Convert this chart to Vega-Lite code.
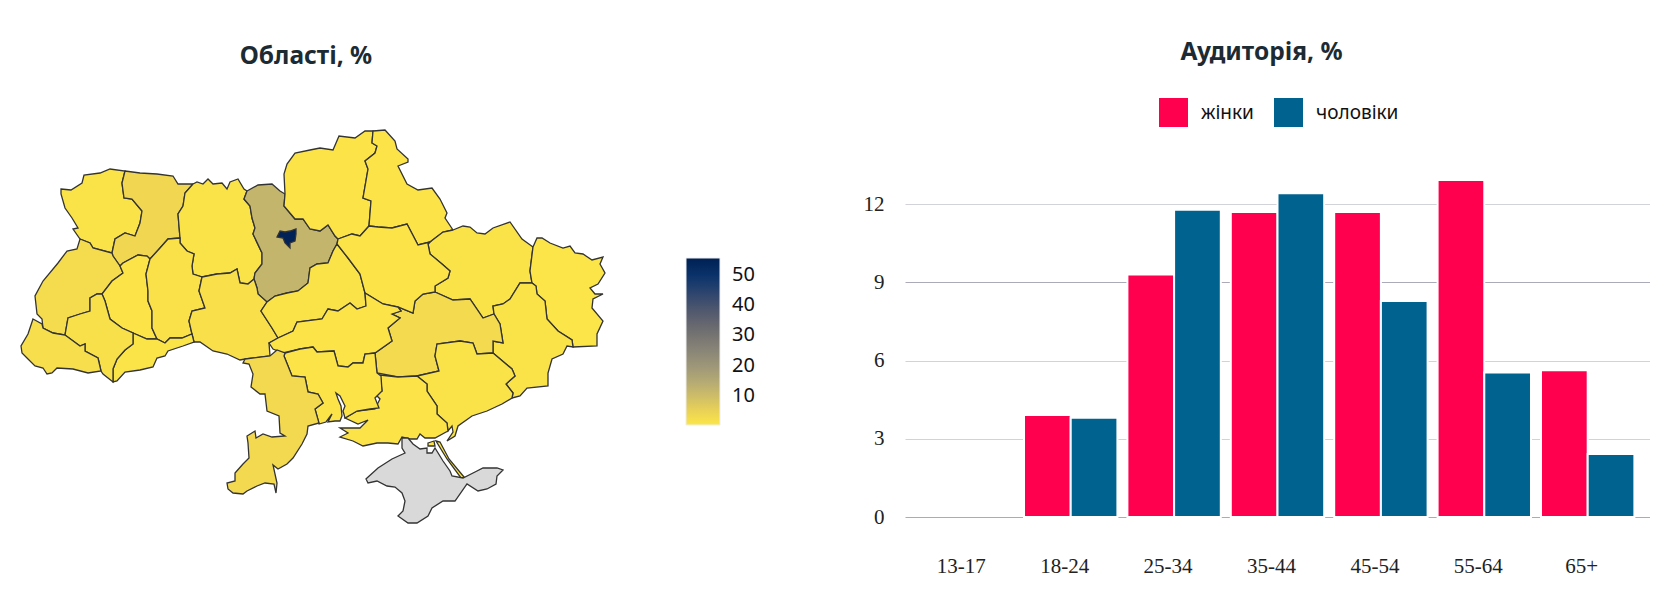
{
  "$schema": "https://vega.github.io/schema/vega-lite/v6.json",
  "background": "white",
  "padding": {"left": 18, "top": 39, "right": 0, "bottom": 0},
  "bounds": "flush",
  "spacing": 300,
  "hconcat": [
    {
      "width": 584,
      "height": 393,
      "title": {"text": "Області, %", "font": "Noto Sans", "fontSize": 24.5, "fontWeight": "bold", "color": "#1c2b33", "anchor": "middle", "baseline": "middle", "offset": 46, "dx": -7},
      "data": {
        "values": [
          {"type": "Feature", "region": "Волинська", "value": 1.2, "geometry": {"type": "Polygon", "coordinates": [[[61,188],[71,189],[82,182],[84,174],[100,172],[110,168],[125,170],[122,182],[124,197],[132,198],[142,210],[140,222],[135,235],[125,232],[115,238],[112,252],[93,247],[90,242],[80,238],[73,228],[78,227],[72,217],[65,207],[61,193],[61,188]]]}},
          {"type": "Feature", "region": "Рівненська", "value": 3.6, "geometry": {"type": "Polygon", "coordinates": [[[125,170],[140,172],[157,173],[173,175],[178,183],[193,183],[185,192],[183,205],[178,213],[180,237],[168,238],[160,247],[150,258],[147,255],[138,254],[123,262],[120,265],[113,255],[112,252],[115,238],[125,232],[135,235],[140,222],[142,210],[132,198],[124,197],[122,182],[125,170]]]}},
          {"type": "Feature", "region": "Житомирська", "value": 1.3, "geometry": {"type": "Polygon", "coordinates": [[[193,183],[197,181],[203,183],[208,178],[213,183],[222,182],[227,188],[230,181],[238,178],[244,188],[247,190],[244,198],[250,205],[252,217],[255,227],[253,233],[262,252],[262,263],[255,272],[254,278],[248,283],[240,282],[237,268],[230,272],[217,273],[202,276],[193,273],[192,265],[194,253],[187,250],[180,242],[180,237],[178,213],[183,205],[185,192],[193,183]]]}},
          {"type": "Feature", "region": "Київська", "value": 12, "geometry": {"type": "Polygon", "coordinates": [[[247,190],[258,184],[272,183],[280,190],[285,193],[284,205],[295,218],[303,218],[310,228],[320,230],[328,224],[335,235],[338,238],[337,243],[333,250],[328,262],[317,263],[310,267],[308,282],[298,290],[287,292],[275,295],[267,301],[258,293],[257,287],[254,278],[255,272],[262,263],[262,252],[253,233],[255,227],[252,217],[250,205],[244,198],[247,190]]]}},
          {"type": "Feature", "region": "Київ", "value": 55, "geometry": {"type": "Polygon", "coordinates": [[[277,236],[280,230],[285,231],[290,230],[296,228],[296,233],[295,240],[290,242],[290,247],[285,242],[283,237],[277,236]]]}},
          {"type": "Feature", "region": "Чернігівська", "value": 1, "geometry": {"type": "Polygon", "coordinates": [[[285,193],[284,173],[287,163],[295,152],[310,149],[320,147],[333,149],[339,135],[355,137],[365,130],[373,130],[372,142],[377,145],[375,152],[365,160],[368,168],[363,197],[371,200],[369,225],[360,235],[352,233],[338,238],[335,235],[328,224],[320,230],[310,228],[303,218],[295,218],[284,205],[285,193]]]}},
          {"type": "Feature", "region": "Сумська", "value": 1, "geometry": {"type": "Polygon", "coordinates": [[[373,130],[385,129],[395,140],[397,148],[408,158],[408,161],[398,165],[407,183],[418,189],[432,187],[440,198],[447,212],[445,217],[453,229],[443,231],[430,241],[418,244],[407,223],[392,227],[378,226],[369,225],[371,200],[363,197],[368,168],[365,160],[375,152],[377,145],[372,142],[373,130]]]}},
          {"type": "Feature", "region": "Харківська", "value": 1.1, "geometry": {"type": "Polygon", "coordinates": [[[453,229],[463,225],[470,226],[477,232],[485,233],[493,227],[510,221],[522,238],[533,246],[530,270],[532,282],[520,282],[510,298],[503,303],[493,305],[494,313],[483,317],[470,298],[453,299],[435,291],[435,285],[448,277],[450,270],[442,263],[430,253],[428,243],[430,241],[443,231],[453,229]]]}},
          {"type": "Feature", "region": "Луганська", "value": 0.7, "geometry": {"type": "Polygon", "coordinates": [[[533,246],[537,237],[542,237],[550,242],[563,247],[570,245],[575,252],[583,253],[592,259],[603,256],[600,263],[605,272],[598,283],[590,287],[595,293],[603,293],[593,298],[592,307],[603,320],[597,333],[597,345],[573,346],[572,339],[558,330],[547,318],[545,300],[537,293],[536,285],[532,282],[530,270],[533,246]]]}},
          {"type": "Feature", "region": "Донецька", "value": 1.1, "geometry": {"type": "Polygon", "coordinates": [[[532,282],[520,282],[510,298],[503,303],[493,305],[494,313],[500,323],[503,342],[493,340],[493,352],[512,368],[515,375],[506,383],[513,392],[512,397],[520,395],[527,387],[548,385],[548,372],[552,358],[563,353],[567,345],[573,346],[572,339],[558,330],[547,318],[545,300],[537,293],[536,285],[532,282]]]}},
          {"type": "Feature", "region": "Дніпропетровська", "value": 3, "geometry": {"type": "Polygon", "coordinates": [[[435,291],[453,299],[470,298],[483,317],[494,313],[500,323],[503,342],[493,340],[493,352],[477,353],[473,342],[460,340],[437,343],[435,355],[439,370],[417,375],[398,376],[377,372],[375,352],[392,340],[388,327],[400,317],[392,313],[401,310],[398,306],[413,312],[415,300],[423,293],[435,291]]]}},
          {"type": "Feature", "region": "Запорізька", "value": 1.1, "geometry": {"type": "Polygon", "coordinates": [[[417,375],[439,370],[435,355],[437,343],[460,340],[473,342],[477,353],[493,352],[512,368],[515,375],[506,383],[513,392],[512,397],[502,403],[487,410],[472,415],[458,425],[455,435],[447,440],[453,431],[452,425],[448,430],[447,422],[437,413],[437,405],[427,390],[427,383],[417,375]]]}},
          {"type": "Feature", "region": "Херсонська", "value": 1, "geometry": {"type": "MultiPolygon", "coordinates": [[[[380,374],[398,376],[417,375],[427,383],[427,390],[437,405],[437,413],[447,422],[448,430],[435,437],[431,437],[425,437],[420,433],[417,438],[410,438],[402,436],[398,443],[388,442],[377,442],[363,445],[353,440],[340,436],[348,432],[340,427],[360,427],[368,419],[358,423],[345,417],[357,410],[375,408],[380,398],[375,393],[382,390],[380,374]]],[[[436,440],[440,441],[449,458],[464,476],[461,477],[447,458],[436,440]]],[[[428,442],[434,440],[435,445],[428,445],[428,442]]]]}},
          {"type": "Feature", "region": "Крим", "value": null, "geometry": {"type": "Polygon", "coordinates": [[[367,477],[378,467],[392,458],[405,452],[402,447],[402,437],[408,437],[413,443],[420,448],[427,447],[427,452],[432,452],[435,447],[443,460],[450,470],[452,475],[463,477],[475,471],[483,467],[497,467],[503,469],[497,475],[496,483],[487,488],[478,490],[467,483],[455,500],[443,500],[432,507],[428,515],[417,522],[408,522],[398,515],[403,510],[405,500],[402,492],[395,486],[387,485],[377,480],[368,482],[366,478],[367,477]]]}},
          {"type": "Feature", "region": "Львівська", "value": 2.6, "geometry": {"type": "Polygon", "coordinates": [[[80,238],[90,242],[93,247],[112,252],[113,255],[120,265],[123,272],[112,280],[102,293],[97,293],[90,297],[90,310],[80,313],[68,317],[65,334],[53,332],[43,327],[42,318],[37,313],[35,295],[43,280],[58,262],[67,250],[77,248],[80,238]]]}},
          {"type": "Feature", "region": "Тернопільська", "value": 1, "geometry": {"type": "Polygon", "coordinates": [[[120,265],[123,262],[138,254],[147,255],[150,258],[146,273],[148,290],[148,300],[152,310],[152,327],[157,338],[147,338],[133,332],[122,327],[110,318],[105,300],[102,293],[112,280],[123,272],[120,265]]]}},
          {"type": "Feature", "region": "Хмельницька", "value": 1.4, "geometry": {"type": "Polygon", "coordinates": [[[150,258],[160,247],[168,238],[180,237],[180,242],[187,250],[194,253],[192,265],[193,273],[202,276],[199,290],[205,307],[192,310],[189,320],[192,333],[182,337],[170,337],[165,342],[157,338],[152,327],[152,310],[148,300],[148,290],[146,273],[150,258]]]}},
          {"type": "Feature", "region": "Вінницька", "value": 1.7, "geometry": {"type": "Polygon", "coordinates": [[[202,276],[217,273],[230,272],[237,268],[240,282],[248,283],[254,278],[257,287],[258,293],[267,301],[261,310],[272,327],[278,337],[269,342],[270,355],[245,358],[240,359],[227,353],[213,350],[200,341],[194,341],[192,333],[189,320],[192,310],[205,307],[199,290],[202,276]]]}},
          {"type": "Feature", "region": "Черкаська", "value": 1.1, "geometry": {"type": "Polygon", "coordinates": [[[267,301],[275,295],[287,292],[298,290],[308,282],[310,267],[317,263],[328,262],[333,250],[337,243],[348,257],[360,273],[365,292],[366,305],[357,308],[350,302],[338,310],[328,308],[322,318],[297,321],[293,330],[278,337],[272,327],[261,310],[267,301]]]}},
          {"type": "Feature", "region": "Полтавська", "value": 1, "geometry": {"type": "Polygon", "coordinates": [[[338,238],[352,233],[360,235],[369,225],[378,226],[392,227],[407,223],[418,244],[430,241],[428,243],[430,253],[442,263],[450,270],[448,277],[435,285],[435,291],[423,293],[415,300],[413,312],[398,306],[383,303],[365,292],[360,273],[348,257],[337,243],[338,238]]]}},
          {"type": "Feature", "region": "Кіровоградська", "value": 1, "geometry": {"type": "Polygon", "coordinates": [[[366,305],[357,308],[350,302],[338,310],[328,308],[322,318],[297,321],[293,330],[278,337],[269,342],[273,348],[283,352],[300,348],[313,346],[317,351],[334,350],[338,365],[348,366],[353,362],[363,362],[365,353],[375,352],[392,340],[388,327],[400,317],[392,313],[401,310],[398,306],[383,303],[365,292],[366,305]]]}},
          {"type": "Feature", "region": "Миколаївська", "value": 1, "geometry": {"type": "Polygon", "coordinates": [[[284,355],[285,352],[300,348],[313,346],[317,351],[334,350],[338,365],[348,366],[353,362],[363,362],[365,353],[375,352],[377,372],[381,375],[382,390],[375,397],[379,407],[370,408],[357,410],[345,417],[343,410],[345,405],[340,395],[336,392],[338,398],[341,405],[342,415],[340,420],[335,420],[328,421],[332,413],[326,421],[319,423],[315,408],[323,402],[318,393],[308,391],[305,376],[292,375],[284,355]]]}},
          {"type": "Feature", "region": "Одеська", "value": 3.2, "geometry": {"type": "Polygon", "coordinates": [[[245,358],[270,355],[277,349],[285,352],[284,355],[292,375],[305,376],[308,391],[318,393],[323,402],[315,408],[319,422],[308,425],[307,433],[302,443],[293,457],[287,463],[278,468],[273,464],[277,482],[276,492],[274,483],[265,482],[257,485],[247,490],[243,493],[233,492],[228,488],[227,482],[235,480],[235,472],[243,463],[249,457],[248,442],[247,435],[255,430],[256,437],[263,433],[272,436],[285,435],[280,432],[279,415],[267,410],[265,393],[260,393],[251,386],[253,373],[249,363],[243,362],[245,358]]]}},
          {"type": "Feature", "region": "Чернівецька", "value": 0.8, "geometry": {"type": "Polygon", "coordinates": [[[133,332],[147,338],[157,338],[165,342],[170,337],[182,337],[192,333],[194,341],[183,345],[168,350],[165,355],[157,357],[153,366],[140,369],[125,371],[117,380],[113,381],[113,368],[117,358],[125,349],[133,343],[133,332]]]}},
          {"type": "Feature", "region": "Івано-Франківська", "value": 1.8, "geometry": {"type": "Polygon", "coordinates": [[[90,297],[97,293],[102,293],[105,300],[110,318],[122,327],[133,332],[133,343],[125,349],[117,358],[113,368],[113,381],[103,373],[101,370],[98,357],[85,350],[85,343],[80,345],[65,334],[68,317],[80,313],[90,310],[90,297]]]}},
          {"type": "Feature", "region": "Закарпатська", "value": 2.2, "geometry": {"type": "Polygon", "coordinates": [[[33,318],[42,323],[43,327],[53,332],[65,334],[80,345],[85,343],[85,350],[98,357],[101,370],[88,372],[73,368],[57,367],[52,372],[47,373],[43,367],[35,365],[28,358],[22,352],[21,345],[28,333],[33,318]]]}}
        ]
      },
      "projection": {"type": "identity"},
      "mark": {"type": "geoshape", "stroke": "#333333", "strokeWidth": 1.3, "invalid": "show"},
      "encoding": {
        "color": {
          "condition": {"test": "datum.value === null", "value": "#d9d9d9"},
          "field": "value",
          "type": "quantitative",
          "scale": {"scheme": "cividis", "reverse": true, "domain": [0.4, 55.6]},
          "legend": {
            "title": null,
            "orient": "none",
            "legendX": 665,
            "legendY": 128,
            "gradientLength": 167,
            "gradientThickness": 34,
            "gradientStrokeColor": "#eeeeee",
            "gradientStrokeWidth": 1,
            "values": [10, 20, 30, 40, 50],
            "labelFont": "Noto Sans",
            "labelFontSize": 20,
            "labelColor": "#111111",
            "labelOffset": 12
          }
        }
      }
    },
    {
      "width": 745,
      "height": 387,
      "title": {"text": "Аудиторія, %", "font": "Noto Sans", "fontSize": 24.5, "fontWeight": "bold", "color": "#1c2b33", "anchor": "middle", "baseline": "middle", "offset": 21, "dx": -16},
      "data": {
        "values": [
          {"age": "13-17", "gender": "жінки", "value": 0},
          {"age": "13-17", "gender": "чоловіки", "value": 0},
          {"age": "18-24", "gender": "жінки", "value": 3.91},
          {"age": "18-24", "gender": "чоловіки", "value": 3.81},
          {"age": "25-34", "gender": "жінки", "value": 9.3},
          {"age": "25-34", "gender": "чоловіки", "value": 11.78},
          {"age": "35-44", "gender": "жінки", "value": 11.7},
          {"age": "35-44", "gender": "чоловіки", "value": 12.41},
          {"age": "45-54", "gender": "жінки", "value": 11.7},
          {"age": "45-54", "gender": "чоловіки", "value": 8.28},
          {"age": "55-64", "gender": "жінки", "value": 12.92},
          {"age": "55-64", "gender": "чоловіки", "value": 5.54},
          {"age": "65+", "gender": "жінки", "value": 5.63},
          {"age": "65+", "gender": "чоловіки", "value": 2.42}
        ]
      },
      "mark": {"type": "bar", "stroke": "white"},
      "encoding": {
        "x": {
          "field": "age",
          "type": "nominal",
          "scale": {"paddingInner": 0.0967, "paddingOuter": 0.151},
          "axis": {
            "title": null,
            "labelAngle": 0,
            "labelFont": "Liberation Serif",
            "labelFontSize": 21,
            "labelColor": "#222222",
            "labelPadding": 38,
            "labelOffset": -6,
            "ticks": false,
            "domain": false,
            "grid": false
          }
        },
        "xOffset": {"field": "gender", "type": "nominal", "sort": ["жінки", "чоловіки"], "scale": {"paddingInner": 0, "paddingOuter": 0}},
        "y": {
          "field": "value",
          "type": "quantitative",
          "scale": {"domain": [0, 14.84], "nice": false},
          "axis": {
            "title": null,
            "values": [0, 3, 6, 9, 12],
            "labelFont": "Liberation Serif",
            "labelFontSize": 21,
            "labelColor": "#222222",
            "labelPadding": 21,
            "ticks": false,
            "domain": false,
            "grid": true,
            "gridColor": {"condition": {"test": "datum.value === 9 || datum.value === 0", "value": "#aaaab8"}, "value": "#d2d2da"}
          }
        },
        "color": {
          "field": "gender",
          "type": "nominal",
          "sort": ["жінки", "чоловіки"],
          "scale": {"domain": ["жінки", "чоловіки"], "range": ["#ff004f", "#00628f"]},
          "legend": {
            "title": null,
            "orient": "none",
            "direction": "horizontal",
            "legendX": 254,
            "legendY": -32,
            "symbolType": "square",
            "symbolSize": 841,
            "symbolStrokeWidth": 0,
            "labelFont": "Noto Sans",
            "labelFontSize": 19,
            "labelColor": "#111111",
            "labelOffset": 13,
            "columnPadding": 20
          }
        },
        "strokeWidth": {"condition": {"test": "datum.value > 0", "value": 2}, "value": 0}
      }
    }
  ],
  "resolve": {"scale": {"color": "independent"}},
  "config": {"view": {"stroke": null}}
}
